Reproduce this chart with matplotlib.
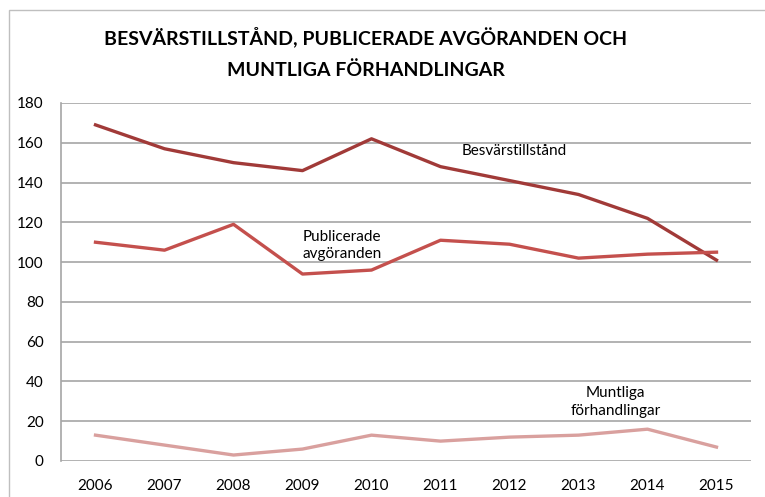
import matplotlib
matplotlib.use("Agg")
import matplotlib.pyplot as plt
from matplotlib.patches import Rectangle

years = ['2006', '2007', '2008', '2009', '2010', '2011', '2012', '2013', '2014', '2015']
besvarstillstand = [169, 157, 150, 146, 162, 148, 141, 134, 122, 101]
publicerade = [110, 106, 119, 94, 96, 111, 109, 102, 104, 105]
muntliga = [13, 8, 3, 6, 13, 10, 12, 13, 16, 7]
yticks = [0, 20, 40, 60, 80, 100, 120, 140, 160, 180]

plt.rcParams['font.family'] = ['Lato', 'DejaVu Sans']

fig = plt.figure(figsize=(7.65, 4.97), dpi=100)
ax = fig.add_axes([61 / 765, 36 / 497, 690 / 765, 358 / 497])

x = range(len(years))
ax.plot(x, besvarstillstand, color='#A13A38', lw=2.4, solid_joinstyle='round', zorder=3)
ax.plot(x, publicerade, color='#C4504D', lw=2.4, solid_joinstyle='round', zorder=3)
ax.plot(x, muntliga, color='#D9A09E', lw=2.4, solid_joinstyle='round', zorder=3)

ax.set_xlim(-0.5, len(years) - 0.5)
ax.set_ylim(0, 180)
ax.set_yticks(yticks)
ax.set_xticks(list(x))
ax.set_xticklabels(years)
ax.grid(axis='y', color='#A6A6A6', lw=1.2)
ax.set_axisbelow(True)
for s in ['top', 'right', 'bottom']:
    ax.spines[s].set_visible(False)
ax.spines['left'].set_color('#A6A6A6')
ax.spines['left'].set_linewidth(1.2)
ax.tick_params(axis='both', length=0, labelsize=11, colors='black')
ax.tick_params(axis='y', pad=12.5)
ax.tick_params(axis='x', pad=13)

# series labels
ax.text(6.07, 156, 'Besvärstillstånd', ha='center', va='center', fontsize=11)
ax.text(3.57, 108.5, 'Publicerade\navgöranden', ha='center', va='center', fontsize=11, linespacing=1.3)
ax.text(7.54, 29.7, 'Muntliga\nförhandlingar', ha='center', va='center', fontsize=11, linespacing=1.3)

fig.text(366 / 765, 1 - 53 / 497,
         'BESVÄRSTILLSTÅND, PUBLICERADE AVGÖRANDEN OCH\nMUNTLIGA FÖRHANDLINGAR',
         ha='center', va='center', fontsize=14, fontweight='bold', linespacing=1.95)

# chart area border
fig.patches.append(Rectangle((9 / 765, -0.1), 1.0, 1.1 - 10 / 497, transform=fig.transFigure,
                             fill=False, edgecolor='#BFBFBF', lw=1.0))

fig.savefig('out.png', dpi=100)
